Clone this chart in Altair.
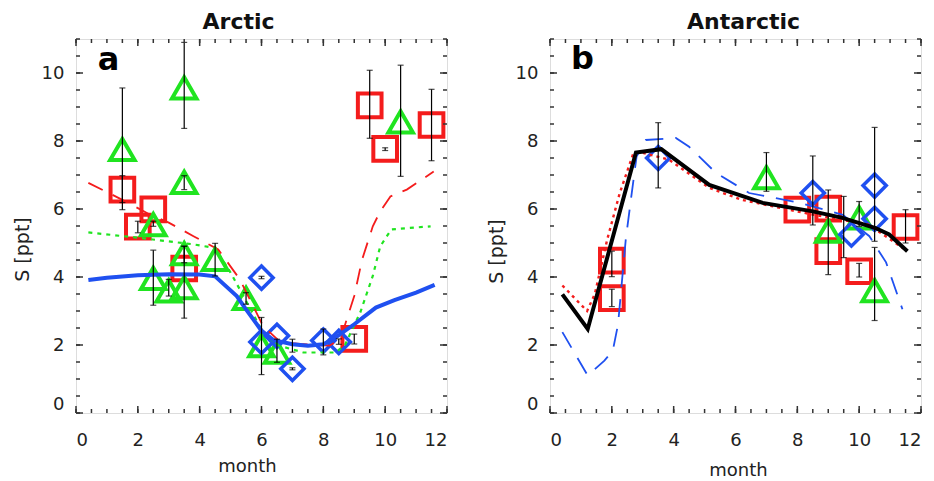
import altair as alt
import pandas as pd

# ---------------- Arctic (panel a) ----------------
arc_tri_x = [1.5, 3.5, 3.5, 2.5, 2.5, 3.0, 3.5, 3.5, 4.5, 5.5, 6.0, 6.5, 10.5]
arc_tri_y = [7.75, 9.56, 6.78, 5.54, 3.96, 3.59, 3.69, 4.69, 4.52, 3.37, 1.98, 1.79, 8.56]
arc_sq_x = [1.5, 2.0, 2.5, 3.5, 9.5, 10.0, 11.5, 9.0]
arc_sq_y = [6.57, 5.48, 5.99, 4.25, 9.05, 7.77, 8.47, 2.18]
arc_dia_x = [6.0, 6.0, 6.5, 7.0, 8.0, 8.5]
arc_dia_y = [3.98, 2.09, 2.27, 1.30, 2.13, 2.09]
arc_err_x = [1.5, 1.5, 2.0, 2.5, 2.5, 3.0, 3.5, 3.5, 3.5, 3.5, 4.5, 5.5,
             6.0, 6.0, 6.5, 7.0, 7.0, 8.0, 8.5, 9.0, 9.5, 10.0, 10.5, 11.5]
arc_err_lo = [5.98, 6.19, 5.30, 5.49, 3.17, 3.44, 2.79, 4.42, 8.37, 6.57, 4.03, 3.20,
              1.13, 3.95, 1.49, 1.79, 1.27, 1.71, 2.02, 2.03, 8.08, 7.72, 6.96, 7.42]
arc_err_hi = [9.56, 6.98, 5.64, 5.64, 4.79, 3.93, 4.91, 4.90, 10.90, 6.98, 4.99, 3.54,
              2.81, 4.02, 2.17, 2.17, 1.33, 2.47, 2.18, 2.32, 10.08, 7.80, 10.23, 9.52]
arc_blue_x = [0.4, 1.0, 2.0, 3.0, 4.0, 4.5, 5.2, 5.5, 6.0, 6.4, 7.0, 7.5, 8.0, 8.3, 9.0, 9.7, 10.3, 11.0, 11.6]
arc_blue_y = [3.91, 3.98, 4.05, 4.08, 4.07, 4.02, 3.44, 3.05, 2.42, 2.14, 2.02, 1.98, 2.02, 2.16, 2.61, 3.10, 3.32, 3.54, 3.77]
arc_red_x = [0.4, 1.5, 2.4, 3.0, 3.8, 4.6, 5.3, 6.05, 6.6, 7.25, 8.2, 8.55, 8.76, 9.0, 9.25, 9.6, 9.84, 10.17, 10.7, 11.57]
arc_red_y = [6.77, 6.27, 5.83, 5.6, 5.2, 4.81, 3.93, 2.56, 2.09, 2.03, 1.98, 2.17, 2.76, 3.44, 4.5, 5.49, 5.93, 6.37, 6.57, 7.1]
arc_green_x = [0.4, 1.96, 3.8, 4.5, 5.0, 5.5, 6.0, 6.5, 7.35, 8.4, 8.7, 9.2, 9.6, 9.84, 10.2, 11.47]
arc_green_y = [5.31, 5.16, 4.96, 4.85, 4.13, 3.3, 2.45, 2.0, 1.78, 1.78, 2.0, 2.97, 4.03, 4.9, 5.4, 5.49]

# ---------------- Antarctic (panel b) ----------------
ant_sq_x = [2.0, 2.0, 8.0, 9.0, 9.0, 10.0, 11.5]
ant_sq_y = [4.48, 3.38, 5.98, 6.01, 4.76, 4.17, 5.47]
ant_dia_x = [3.5, 8.5, 10.5, 10.5, 9.75]
ant_dia_y = [7.5, 6.47, 6.69, 5.71, 5.25]
ant_tri_x = [7.0, 9.0, 10.0, 10.5]
ant_tri_y = [6.92, 5.35, 5.74, 3.6]
ant_err_x = [2.0, 2.0, 3.5, 7.0, 8.5, 9.0, 9.5, 10.0, 10.0, 10.5, 10.5, 11.5]
ant_err_lo = [4.01, 3.13, 6.62, 6.52, 5.53, 4.07, 4.57, 4.0, 5.49, 5.05, 2.72, 5.0]
ant_err_hi = [4.76, 3.64, 8.54, 7.66, 7.56, 6.56, 6.37, 4.4, 6.22, 8.4, 4.87, 5.98]
ant_black_x = [0.4, 1.22, 2.78, 3.6, 5.15, 6.88, 8.5, 9.46, 10.53, 10.97, 11.56]
ant_black_y = [3.49, 2.47, 7.66, 7.76, 6.71, 6.18, 5.93, 5.74, 5.44, 5.25, 4.76]
ant_red_x = [0.4, 1.2, 1.45, 1.85, 2.25, 2.7, 3.0, 3.85, 5.15, 6.2, 8.2, 10.3, 11.5]
ant_red_y = [3.75, 3.0, 3.5, 5.1, 6.45, 7.65, 7.65, 7.45, 6.62, 6.27, 5.89, 5.54, 4.8]
ant_blue_x = [0.4, 1.22, 1.76, 2.03, 2.2, 2.45, 2.62, 2.8, 3.1, 4.07, 4.5, 5.37, 6.44, 8.05, 9.47, 10.33, 10.87, 11.4]
ant_blue_y = [2.38, 1.1, 1.54, 1.83, 2.6, 5.1, 6.3, 7.54, 8.03, 8.09, 7.83, 7.06, 6.47, 6.19, 5.83, 5.2, 4.43, 3.05]

# ---------------- labels / ticks ----------------
panel_titles = ["Arctic", "Antarctic"]
panel_letters = ["a", "b"]
letter_x = [0.7, 0.68]
letter_y = [10.08, 10.13]
x_major = [0, 2, 4, 6, 8, 10, 12]
x_minor = [0.5 * i for i in range(25)]
y_major = [0, 2, 4, 6, 8, 10]
y_minor = [0.5 * i for i in range(23)]

FONT = "DejaVu Sans"
W, H = 371, 374
RED = "#f41c1c"
GREEN = "#20e420"
BLUE = "#1f50f0"
INK = "#222222"


def enc_x(field, xtitle_x, xtitle_y):
    return alt.X(field, type="quantitative",
                 scale=alt.Scale(domain=[0, 12], nice=False, zero=False),
                 axis=alt.Axis(values=x_major, title="month", grid=False, ticks=False,
                               tickSize=0, domain=False, labelFontSize=18, labelFont=FONT,
                               labelColor=INK, labelPadding=18, titleFontSize=18,
                               titleFont=FONT, titleFontWeight="normal", titleColor=INK,
                               titleX=xtitle_x, titleY=xtitle_y, titleBaseline="alphabetic",
                               format="d"))


def enc_y(field, ytitle_x, ytitle_y):
    return alt.Y(field, type="quantitative",
                 scale=alt.Scale(domain=[0, 11], nice=False, zero=False),
                 axis=alt.Axis(values=y_major, title="S [ppt]", grid=False, ticks=False,
                               tickSize=0, domain=False, labelFontSize=18, labelFont=FONT,
                               labelColor=INK, labelPadding=12, labelFlush=True,
                               titleFontSize=19, titleFont=FONT, titleFontWeight="normal",
                               titleColor=INK, titleX=ytitle_x, titleY=ytitle_y,
                               titleBaseline="alphabetic", format="d"))


def make_panel(idx, title_dx, tri, sq, dia, err, lines, xt, yt):
    X = lambda f="x": enc_x(f, xt[0], xt[1])
    Y = lambda f="y": enc_y(f, yt[0], yt[1])
    layers = []

    # markers
    for (xs, ys), shape, color, size, sw in [
        (sq, "square", RED, 560, 4),
        (tri, "triangle-up", GREEN, 600, 4),
        (dia, "diamond", BLUE, 540, 3.5),
    ]:
        if not xs:
            continue
        df = pd.DataFrame({"x": xs, "y": ys})
        layers.append(alt.Chart(df).mark_point(shape=shape, filled=False, color=color,
                                               size=size, strokeWidth=sw, opacity=1)
                      .encode(x=X(), y=Y()))

    # model lines
    for xs, ys, color, width, dash in lines:
        df = pd.DataFrame({"x": xs, "y": ys, "i": list(range(len(xs)))})
        kw = dict(color=color, strokeWidth=width, clip=True)
        if dash:
            kw["strokeDash"] = dash
        layers.append(alt.Chart(df).mark_line(**kw)
                      .encode(x=X(), y=Y(), order="i:Q"))

    # error bars
    ex, elo, ehi = err
    edf = pd.DataFrame({"x": ex, "y": elo, "y2": ehi})
    layers.append(alt.Chart(edf).mark_rule(color="black", strokeWidth=1.2)
                  .encode(x=X(), y=Y(), y2="y2:Q"))
    cdf = pd.DataFrame({"x": ex + ex, "y": elo + ehi})
    layers.append(alt.Chart(cdf).mark_tick(color="black", orient="horizontal",
                                           size=6, thickness=1.2)
                  .encode(x=X(), y=Y()))

    # frame ticks (inward)
    for vals, L in [(x_major, 7), (x_minor, 4)]:
        tdf = pd.DataFrame({"x": vals})
        layers.append(alt.Chart(tdf).mark_rule(color="#333", strokeWidth=1.5)
                      .encode(x=X(), y=alt.value(H), y2=alt.value(H - L)))
        layers.append(alt.Chart(tdf).mark_rule(color="#333", strokeWidth=1.5)
                      .encode(x=X(), y=alt.value(0), y2=alt.value(L)))
    for vals, L in [(y_major, 7), (y_minor, 4)]:
        tdf = pd.DataFrame({"y": vals})
        layers.append(alt.Chart(tdf).mark_rule(color="#333", strokeWidth=1.5)
                      .encode(y=Y(), x=alt.value(0), x2=alt.value(L)))
        layers.append(alt.Chart(tdf).mark_rule(color="#333", strokeWidth=1.5)
                      .encode(y=Y(), x=alt.value(W), x2=alt.value(W - L)))

    # panel letter
    ldf = pd.DataFrame({"x": [letter_x[idx]], "y": [letter_y[idx]], "t": [panel_letters[idx]]})
    layers.append(alt.Chart(ldf).mark_text(font=FONT, fontSize=32, fontWeight="bold",
                                           align="left", baseline="alphabetic", color="black")
                  .encode(x=X(), y=Y(), text="t:N"))

    return alt.layer(*layers).properties(
        width=W, height=H,
        title=alt.TitleParams(text=panel_titles[idx], font=FONT, fontSize=22,
                              fontWeight="bold", color="#111", anchor="middle",
                              frame="group", dx=title_dx, offset=-13, baseline="alphabetic"),
    )


left = make_panel(
    0, -23,
    (arc_tri_x, arc_tri_y), (arc_sq_x, arc_sq_y), (arc_dia_x, arc_dia_y),
    (arc_err_x, arc_err_lo, arc_err_hi),
    [
        (arc_red_x, arc_red_y, RED, 1.8, [16, 11]),
        (arc_green_x, arc_green_y, GREEN, 2.2, [4, 5]),
        (arc_blue_x, arc_blue_y, BLUE, 4, None),
    ],
    (171, 58), (-48, 210),
)

right = make_panel(
    1, 8,
    (ant_tri_x, ant_tri_y), (ant_sq_x, ant_sq_y), (ant_dia_x, ant_dia_y),
    (ant_err_x, ant_err_lo, ant_err_hi),
    [
        (ant_red_x, ant_red_y, RED, 2.4, [3, 4]),
        (ant_blue_x, ant_blue_y, BLUE, 1.8, [18, 12]),
        (ant_black_x, ant_black_y, "black", 4, None),
    ],
    (188, 62), (-48, 212),
)

chart = alt.hconcat(left, right, spacing=34).properties(
    padding={"left": 4, "top": 2, "right": 0, "bottom": 0},
    background="white",
).configure_view(stroke="#333", strokeWidth=2).configure(font=FONT)

chart.save("out.html", embed_options={"renderer": "svg", "actions": False})
